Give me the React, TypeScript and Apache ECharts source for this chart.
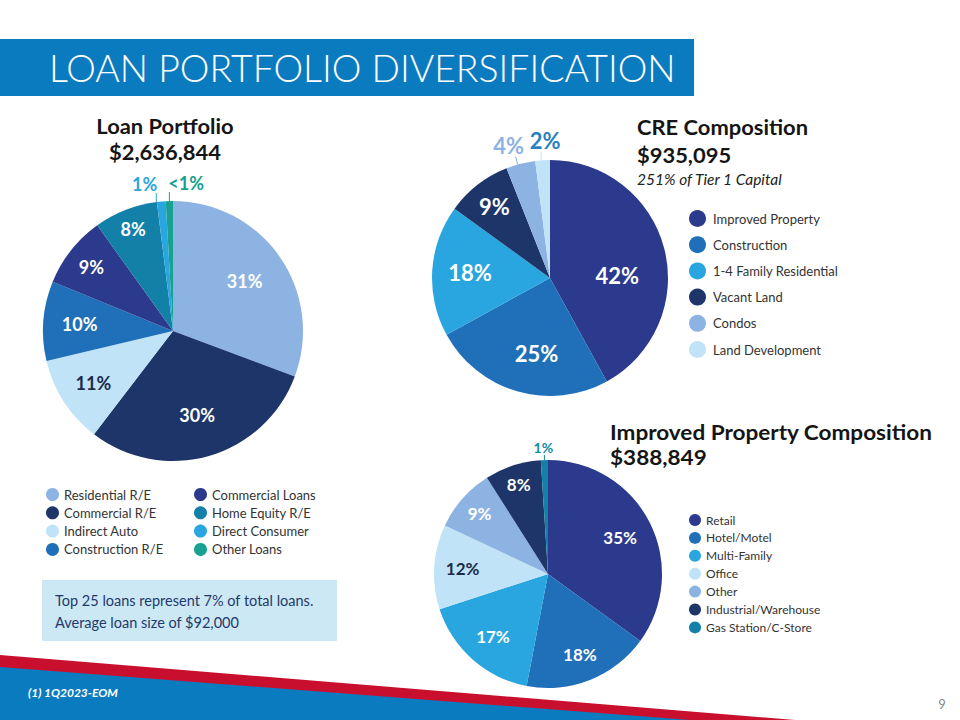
import React, { useEffect, useRef } from "react";
import * as echarts from "echarts";

// ---------- data ----------
const slideTitle = "LOAN PORTFOLIO DIVERSIFICATION";

const loanTitle = "Loan Portfolio";
const loanTotal = "$2,636,844";
const loanCategories = ["Residential R/E", "Commercial R/E", "Indirect Auto", "Construction R/E", "Commercial Loans", "Home Equity R/E", "Direct Consumer", "Other Loans"];
const loanValues = [31, 30, 11, 10, 9, 8, 1.1, 0.9];
const loanLabels = ["31%", "30%", "11%", "10%", "9%", "8%", "1%", "<1%"];

const creTitle = "CRE Composition";
const creTotal = "$935,095";
const creNote = "251% of Tier 1 Capital";
const creCategories = ["Improved Property", "Construction", "1-4 Family Residential", "Vacant Land", "Condos", "Land Development"];
const creValues = [42, 25, 18, 9, 4, 2];
const creLabels = ["42%", "25%", "18%", "9%", "4%", "2%"];

const ipTitle = "Improved Property Composition";
const ipTotal = "$388,849";
const ipCategories = ["Retail", "Hotel/Motel", "Multi-Family", "Office", "Other", "Industrial/Warehouse", "Gas Station/C-Store"];
const ipValues = [35, 18, 17, 12, 9, 8, 1];
const ipLabels = ["35%", "18%", "17%", "12%", "9%", "8%", "1%"];

const noteLines = ["Top 25 loans represent 7% of total loans.", "Average loan size of $92,000"];
const footnote = "(1) 1Q2023-EOM";
const pageNumber = "9";

// ---------- styles ----------
const C = {
  steel: "#8db3e2",
  navy: "#1d3569",
  pale: "#c0e3f7",
  mid: "#1f70b9",
  indigo: "#2c3a8e",
  teal: "#1380a7",
  bright: "#29a6df",
  green: "#16a190",
  banner: "#0b7bc0",
  red: "#c8102e",
};
const W = "#ffffff";
const D = "#1c2b4a";
const loanColors = [C.steel, C.navy, C.pale, C.mid, C.indigo, C.teal, C.bright, C.green];
const loanLabelColors = [W, W, D, W, W, W, C.bright, C.green];
const creColors = [C.indigo, C.mid, C.bright, C.navy, C.steel, C.pale];
const creLabelColors = [W, W, W, W, C.steel, "#2a7fc0"];
const ipColors = [C.indigo, C.mid, C.bright, C.pale, C.steel, C.navy, C.teal];
const ipLabelColors = [W, W, W, D, W, W, "#148aa8"];

type Place = { r?: number; da?: number; out?: boolean; dx?: number; dy?: number; align?: string; line?: number; lx?: number; tx?: number };

const loanPlace: Place[] = [
  { r: 0.67 }, { r: 0.67 }, { r: 0.73 }, { r: 0.72 }, { r: 0.8 }, { r: 0.84 },
  { out: true, dx: 1, dy: -18, align: "right", line: 9, lx: -5 },
  { out: true, dx: -1, dy: -18, align: "left", line: 9, lx: 0 },
];
const crePlace: Place[] = [
  { r: 0.57, da: 12 }, { r: 0.65, da: -6 }, { r: 0.68 }, { r: 0.77 },
  { out: true, dx: -9, dy: -19, align: "center", line: 8, lx: -3, tx: -2 },
  { out: true, dx: 4, dy: -20, align: "center", line: 8, lx: -1.5, tx: 0 },
];
const ipPlace: Place[] = [
  { r: 0.71 }, { r: 0.76 }, { r: 0.73 }, { r: 0.75 }, { r: 0.8 }, { r: 0.83 },
  { out: true, dx: -1, dy: -13, align: "center", line: 5, lx: 0 },
];

const FONT = "Lato";

function makePie(cfg: {
  center: [number, number];
  r: number;
  names: string[];
  values: number[];
  labels: string[];
  colors: string[];
  labelColors: string[];
  place: Place[];
  inSize: number;
  outSize: number;
}) {
  const total = cfg.values.reduce((a, b) => a + b, 0);
  const mids: number[] = [];
  let acc = 0;
  cfg.values.forEach((v) => {
    mids.push(((acc + v / 2) / total) * 360);
    acc += v;
  });
  return {
    type: "pie",
    center: cfg.center,
    radius: cfg.r,
    startAngle: 90,
    clockwise: true,
    avoidLabelOverlap: false,
    silent: true,
    itemStyle: { borderWidth: 0 },
    label: { fontFamily: FONT, fontWeight: "bold" },
    data: cfg.names.map((name, i) => {
      const out = !!cfg.place[i].out;
      return {
        name,
        value: cfg.values[i],
        itemStyle: { color: cfg.colors[i], borderWidth: 0 },
        label: {
          show: true,
          position: out ? "outside" : "inside",
          formatter: cfg.labels[i],
          color: cfg.labelColors[i],
          fontSize: out ? cfg.outSize : cfg.inSize,
          fontFamily: FONT,
          fontWeight: "bold",
        },
        labelLine: { show: out, length: 6, length2: 0, lineStyle: { width: 1, color: cfg.colors[i] } },
      };
    }),
    labelLayout: (p: any) => {
      const i = p.dataIndex;
      const pl = cfg.place[i];
      const [cx, cy] = cfg.center;
      if (!pl.out) {
        const a = ((mids[i] + (pl.da || 0)) * Math.PI) / 180;
        const R = (pl.r || 0.6) * cfg.r;
        return { x: cx + R * Math.sin(a), y: cy - R * Math.cos(a), align: "center", verticalAlign: "middle" };
      }
      const am = (mids[i] * Math.PI) / 180;
      const ax = cx + cfg.r * Math.sin(am) + (pl.lx || 0);
      const ay = cy - Math.sqrt(Math.max(0, cfg.r * cfg.r - (ax - cx) * (ax - cx)));
      const ex = ax + (pl.tx || 0);
      const ey = ay - (pl.line || 6);
      return {
        x: ax + (pl.dx || 0),
        y: ay + (pl.dy || 0),
        align: pl.align || "center",
        verticalAlign: "middle",
        labelLinePoints: [[ax, ay], [ex, ey], [ex, ey]],
      };
    },
  };
}

function legendOf(names: string[], left: number, top: number, size: number, gap: number, fontSize: number, pad: number) {
  return {
    data: names,
    left,
    top,
    orient: "vertical",
    icon: "circle",
    itemWidth: size,
    itemHeight: size,
    itemGap: gap,
    padding: 0,
    selectedMode: false,
    textStyle: { fontFamily: FONT, fontSize, color: "#333333", lineHeight: size, padding: [0, 0, 0, pad] },
  };
}

export default function App() {
  const ref = useRef<HTMLDivElement>(null);

  useEffect(() => {
    document.body.style.margin = "0";
    if (!ref.current) return;
    const chart = echarts.init(ref.current, null, { renderer: "svg" });

    // fit the banner title to its measured width
    let titleScale = 1;
    try {
      const ctx = document.createElement("canvas").getContext("2d");
      if (ctx) {
        ctx.font = `300 37px ${FONT}`;
        const w = ctx.measureText(slideTitle).width;
        if (w > 0) titleScale = 627 / w;
      }
    } catch (e) {
      titleScale = 1;
    }

    const head = (text: string, x: number, y: number, align: string, sx: number) => ({
      type: "text",
      x,
      y,
      scaleX: sx,
      style: { text, fill: "#151515", fontFamily: FONT, fontWeight: "bold", fontSize: 20.5, align, verticalAlign: "middle" },
    });

    chart.setOption({
      animation: false,
      backgroundColor: "#ffffff",
      legend: [
        legendOf(loanCategories.slice(0, 4), 46, 488, 13, 5.3, 13, 0),
        legendOf(loanCategories.slice(4), 194, 488, 13, 5.3, 13, 0),
        legendOf(creCategories, 689, 210, 17, 9.2, 13, 2),
        legendOf(ipCategories, 689, 514, 12, 5.9, 12, 0),
      ],
      graphic: [
        { type: "rect", shape: { x: 0, y: 39, width: 694, height: 57 }, style: { fill: C.banner } },
        {
          type: "text",
          x: 49,
          y: 68,
          scaleX: titleScale,
          style: { text: slideTitle, fill: "#ffffff", fontFamily: FONT, fontWeight: 300, fontSize: 37, verticalAlign: "middle" },
        },
        head(loanTitle, 165, 126, "center", 1.07),
        head(loanTotal, 165, 152, "center", 1.07),
        head(creTitle, 637, 127, "left", 1.07),
        head(creTotal, 637, 155, "left", 1.07),
        {
          type: "text",
          x: 637,
          y: 179,
          style: { text: creNote, fill: "#222222", fontFamily: FONT, fontStyle: "italic", fontWeight: "normal", fontSize: 15.5, verticalAlign: "middle" },
        },
        head(ipTitle, 610, 432, "left", 1.1),
        head(ipTotal, 610, 457, "left", 1.1),
        { type: "rect", shape: { x: 42, y: 580, width: 295, height: 61 }, style: { fill: "#cde8f5" } },
        {
          type: "text",
          x: 55,
          y: 600,
          style: { text: noteLines[0], fill: "#1d3a6b", fontFamily: FONT, fontSize: 14.5, verticalAlign: "middle" },
        },
        {
          type: "text",
          x: 55,
          y: 622,
          style: { text: noteLines[1], fill: "#1d3a6b", fontFamily: FONT, fontSize: 14.5, verticalAlign: "middle" },
        },
        { type: "polygon", shape: { points: [[0, 655], [795, 720], [0, 720]] }, style: { fill: C.red } },
        { type: "polygon", shape: { points: [[0, 667], [690, 720], [0, 720]] }, style: { fill: C.banner } },
        {
          type: "text",
          x: 28,
          y: 692,
          style: { text: footnote, fill: "#ffffff", fontFamily: FONT, fontStyle: "italic", fontWeight: "bold", fontSize: 12, verticalAlign: "middle" },
        },
        {
          type: "text",
          x: 942,
          y: 704,
          style: { text: pageNumber, fill: "#8a8a8a", fontFamily: FONT, fontSize: 13, align: "center", verticalAlign: "middle" },
        },
      ],
      series: [
        makePie({
          center: [173, 331], r: 130, names: loanCategories, values: loanValues, labels: loanLabels,
          colors: loanColors, labelColors: loanLabelColors, place: loanPlace, inSize: 18, outSize: 18,
        }),
        makePie({
          center: [550, 278], r: 118, names: creCategories, values: creValues, labels: creLabels,
          colors: creColors, labelColors: creLabelColors, place: crePlace, inSize: 22, outSize: 22,
        }),
        makePie({
          center: [548, 574], r: 114, names: ipCategories, values: ipValues, labels: ipLabels,
          colors: ipColors, labelColors: ipLabelColors, place: ipPlace, inSize: 17, outSize: 14,
        }),
      ],
    });

    return () => chart.dispose();
  }, []);

  return <div ref={ref} style={{ width: 960, height: 720 }} />;
}
